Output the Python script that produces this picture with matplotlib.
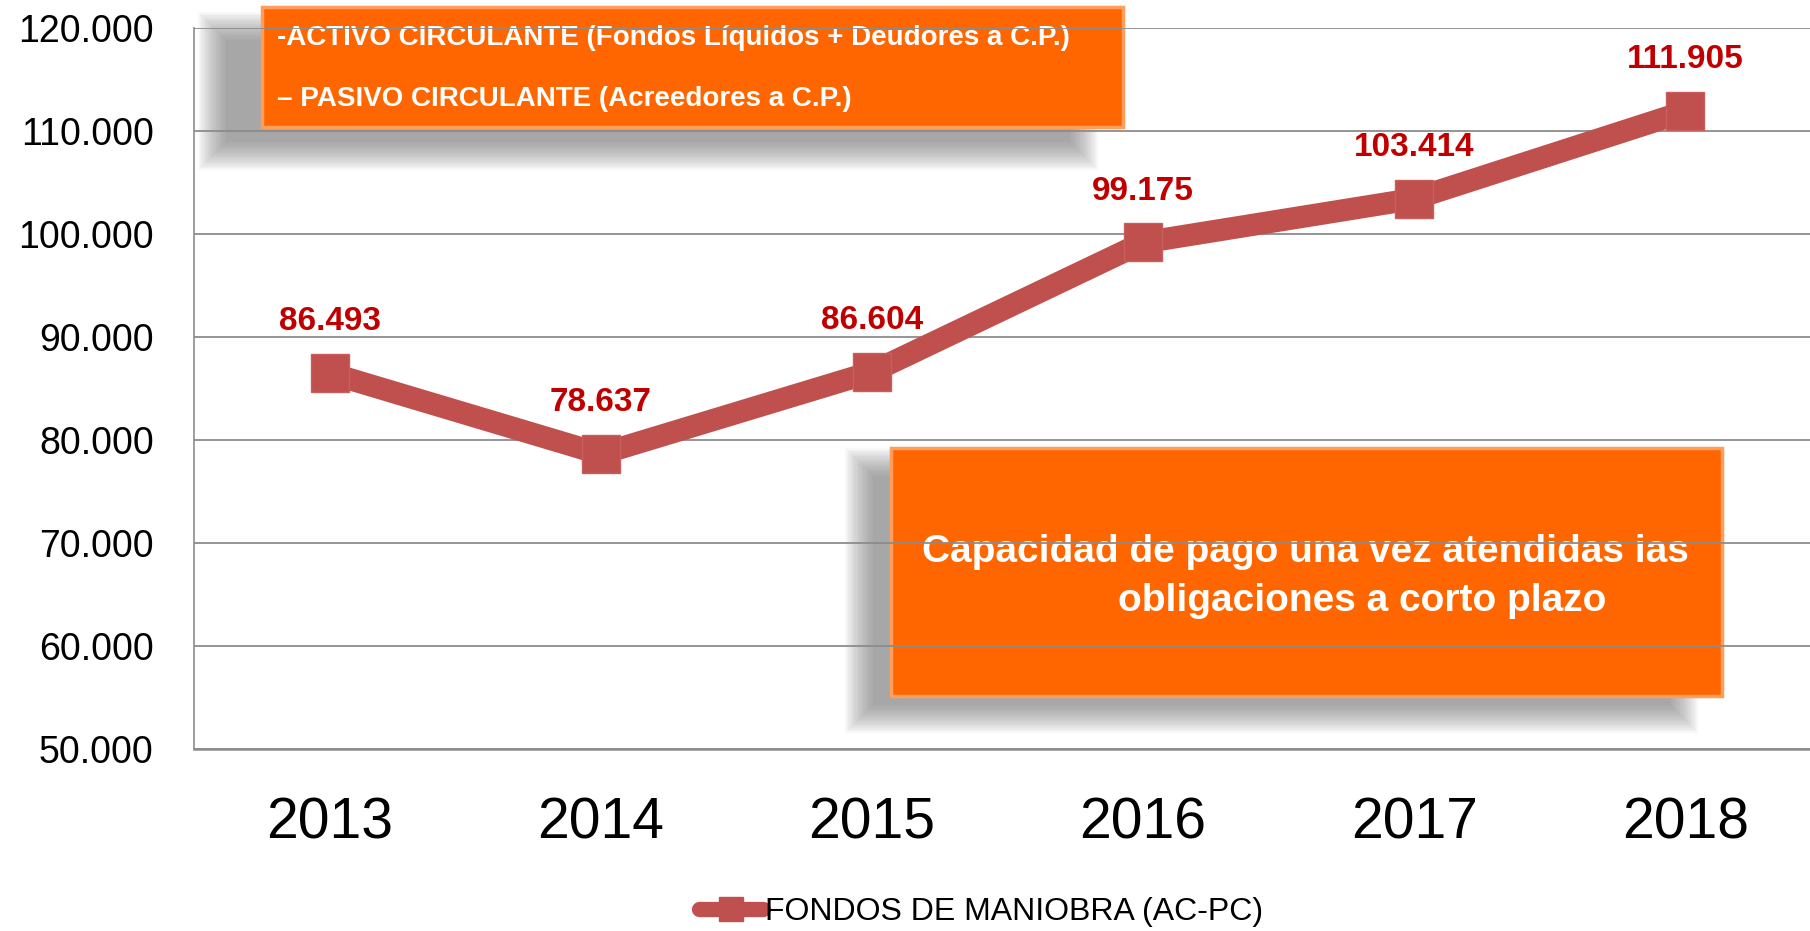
"""
Fondo de maniobra 2013-2018 (línea con etiquetas y cajas naranjas)
"""
import matplotlib
matplotlib.use('Agg')
import matplotlib.pyplot as plt
from matplotlib.patches import Rectangle
from matplotlib.lines import Line2D
from matplotlib.ticker import FuncFormatter

plt.rcParams['font.family'] = ['Liberation Sans', 'DejaVu Sans']

# datos
years = ['2013', '2014', '2015', '2016', '2017', '2018']
fondos_maniobra = [86493, 78637, 86604, 99175, 103414, 111905]
y_ticks = [50000, 60000, 70000, 80000, 90000, 100000, 110000, 120000]
serie_nombre = 'FONDOS DE MANIOBRA (AC-PC)'
texto_formula = ['-ACTIVO CIRCULANTE (Fondos Líquidos + Deudores a C.P.)',
                 '– PASIVO CIRCULANTE (Acreedores a C.P.)']
texto_nota = ['Capacidad de pago una vez atendidas ias',
              'obligaciones a corto plazo']

W, H = 1810, 931
LINE_RED = '#C0504D'
LABEL_RED = '#C00000'
ORANGE = '#FF6600'
GRID = '#8C8C8C'


def miles(v, pos=None):
    return f'{v:,.0f}'.replace(',', '.')


def fx(px):
    return px / W


def fy(py):
    return 1 - py / H


fig = plt.figure(figsize=(W / 100, H / 100), dpi=100)
fig.patch.set_facecolor('white')
ax = fig.add_axes([fx(194), fy(749), (1821 - 194) / W, (749 - 28) / H])

x = list(range(len(years)))
ax.plot(x, fondos_maniobra, color=LINE_RED, lw=16, marker='s', ms=27,
        mfc=LINE_RED, mec='#C95F5C', mew=1, solid_joinstyle='miter',
        zorder=4, clip_on=False)

for i, v in zip(x, fondos_maniobra):
    ax.annotate(miles(v), (i, v), xytext=(0, 37), textcoords='offset points',
                ha='center', va='center', fontsize=24, fontweight='bold',
                color=LABEL_RED, zorder=5)

ax.set_xlim(-0.5, len(years) - 0.5)
ax.set_ylim(50000, 120000)
ax.set_xticks(x)
ax.set_xticklabels(years)
ax.set_yticks(y_ticks)
ax.yaxis.set_major_formatter(FuncFormatter(miles))
ax.tick_params(axis='y', length=0, pad=29, labelsize=27)
ax.tick_params(axis='x', length=0, pad=34, labelsize=41)

ax.yaxis.grid(True, color=GRID, lw=1.3)
for s in ['top', 'right']:
    ax.spines[s].set_visible(False)
ax.spines['left'].set_color(GRID)
ax.spines['left'].set_linewidth(1.2)
ax.spines['bottom'].set_color(GRID)
ax.spines['bottom'].set_linewidth(1.8)


def caja(box, sombra, blur=30):
    # sombra difusa con capas grises semitransparentes
    sx0, sy0, sx1, sy1 = sombra
    n = 18
    for k in range(n):
        g = (n - k) * blur / n
        ax.add_patch(Rectangle((fx(sx0 - g), fy(sy1 + g)), (sx1 - sx0 + 2 * g) / W,
                               (sy1 - sy0 + 2 * g) / H, transform=fig.transFigure,
                               color='#777777', alpha=0.05, lw=0, clip_on=False,
                               zorder=1.0))
    x0, y0, x1, y1 = box
    ax.add_patch(Rectangle((fx(x0), fy(y1)), (x1 - x0) / W, (y1 - y0) / H,
                           transform=fig.transFigure, fc=ORANGE, ec='#FF9D5C',
                           lw=2.5, clip_on=False, zorder=1.1))


caja((262, 7, 1123, 127), (228, 42, 1068, 140))
caja((891, 448, 1722, 696), (875, 478, 1668, 703))

ax.text(fx(277), fy(38), texto_formula[0], transform=fig.transFigure,
        ha='left', va='center', fontsize=20, fontweight='bold', color='white', zorder=1.2)
ax.text(fx(277), fy(99), texto_formula[1], transform=fig.transFigure,
        ha='left', va='center', fontsize=20, fontweight='bold', color='white', zorder=1.2)
ax.text(fx(1305), fy(552), texto_nota[0], transform=fig.transFigure,
        ha='center', va='center', fontsize=28, fontweight='bold', color='white', zorder=1.2)
ax.text(fx(1362), fy(601), texto_nota[1], transform=fig.transFigure,
        ha='center', va='center', fontsize=28, fontweight='bold', color='white', zorder=1.2)

# leyenda abajo
handle = Line2D([], [], color=LINE_RED, lw=11, marker='s', ms=17,
                solid_capstyle='round')
fig.legend(handles=[handle], labels=[serie_nombre], loc='center',
           bbox_to_anchor=(fx(981), fy(912)), frameon=False, fontsize=23,
           handlelength=2.0, handletextpad=0.05, borderpad=0.1)

fig.savefig('out.png', dpi=100, facecolor='white')
